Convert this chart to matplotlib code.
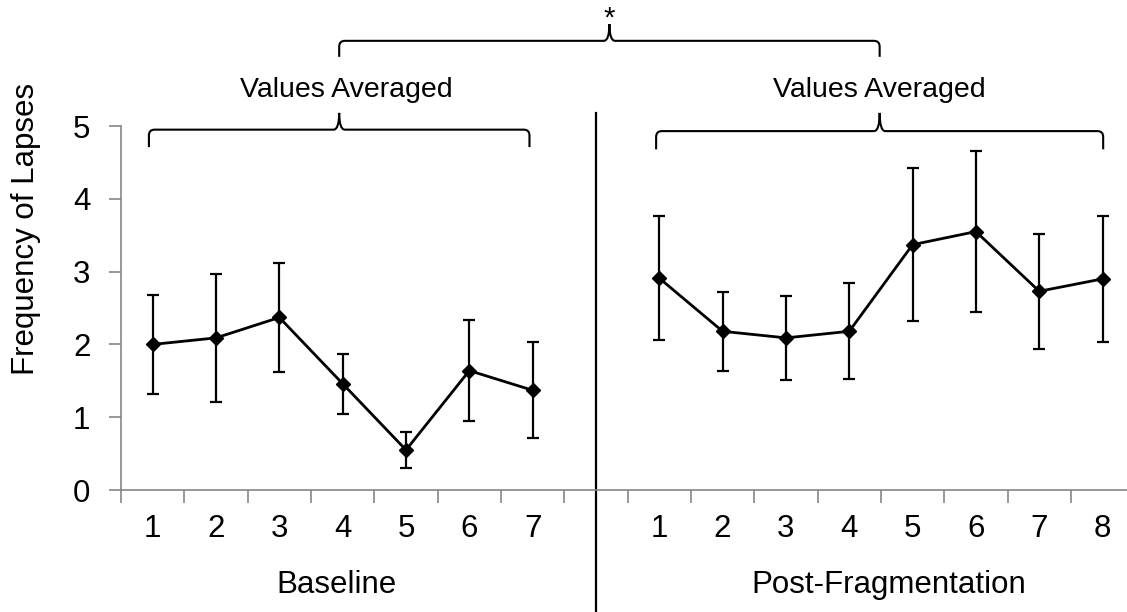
import matplotlib.pyplot as plt
from matplotlib.path import Path
from matplotlib.patches import PathPatch

plt.rcParams['font.family'] = ['Liberation Sans', 'DejaVu Sans']

# data
baseline_labels = ['1', '2', '3', '4', '5', '6', '7']
baseline_mean = [2.00, 2.09, 2.37, 1.46, 0.55, 1.64, 1.37]
baseline_err = [0.68, 0.88, 0.75, 0.41, 0.25, 0.69, 0.66]

post_labels = ['1', '2', '3', '4', '5', '6', '7', '8']
post_mean = [2.91, 2.18, 2.09, 2.18, 3.37, 3.55, 2.73, 2.90]
post_err = [0.85, 0.54, 0.58, 0.66, 1.05, 1.10, 0.79, 0.87]

# x positions: 7 baseline slots, one empty slot, 8 post slots
x_base = list(range(1, len(baseline_mean) + 1))
gap = len(baseline_mean) + 1
x_post = list(range(gap + 1, gap + 1 + len(post_mean)))
n_slots = gap + len(post_mean)

fig = plt.figure(figsize=(11.27, 6.12), dpi=100)
ax = fig.add_axes([0.1074, 0.1993, 0.899, 0.5948])

# each group is connected only within itself
for xs, ys, es in [(x_base, baseline_mean, baseline_err), (x_post, post_mean, post_err)]:
    ax.errorbar(xs, ys, yerr=es, color='black', lw=2.0, marker='D', ms=7,
                elinewidth=1.6, capsize=4.5, capthick=1.6, clip_on=False, zorder=3)

ax.set_xlim(0.5, n_slots + 0.5)
ax.set_ylim(0, 5)
ax.set_yticks([0, 1, 2, 3, 4, 5])
ax.set_xticks([i + 0.5 for i in range(0, n_slots + 1)])
ax.set_xticklabels([])
ax.tick_params(axis='both', direction='out', length=9, width=1.2, color='#868686',
               labelsize=22.5)
ax.tick_params(axis='y', pad=13)

for s in ['top', 'right']:
    ax.spines[s].set_visible(False)
for s in ['left', 'bottom']:
    ax.spines[s].set_color('#868686')
    ax.spines[s].set_linewidth(1.2)

# category numbers and group labels
for xs, labs in [(x_base, baseline_labels), (x_post, post_labels)]:
    for x, lab in zip(xs, labs):
        ax.text(x, -0.53, lab, ha='center', va='center', fontsize=22.5, clip_on=False)
ax.text(3.9, -1.31, 'Baseline', ha='center', va='center', fontsize=22.5, clip_on=False)
ax.text(12.63, -1.31, 'Post-Fragmentation', ha='center', va='center', fontsize=22.5, clip_on=False)

fig.text(26 / 1127, 1 - 229 / 612, 'Frequency of Lapses', rotation=90,
         ha='center', va='center', fontsize=22.5)

# divider between groups
ax.plot([gap, gap], [5.18, -1.68], color='black', lw=1.6, clip_on=False)


def brace(x0, x1, y, drop, tip, rx=0.09, ry=0.08):
    xc = (x0 + x1) / 2
    verts = [(x0, y - drop), (x0, y - ry), (x0, y), (x0 + rx, y),
             (xc - rx, y), (xc, y), (xc, y + tip),
             (xc, y), (xc + rx, y),
             (x1 - rx, y), (x1, y), (x1, y - ry), (x1, y - drop)]
    codes = [Path.MOVETO, Path.LINETO, Path.CURVE3, Path.CURVE3,
             Path.LINETO, Path.CURVE3, Path.CURVE3,
             Path.CURVE3, Path.CURVE3,
             Path.LINETO, Path.CURVE3, Path.CURVE3, Path.LINETO]
    ax.add_patch(PathPatch(Path(verts, codes), fill=False, lw=1.5, color='black',
                           clip_on=False))
    return xc


c_left = brace(x_base[0] - 0.06, x_base[-1] - 0.05, 4.95, 0.24, 0.23)
c_right = brace(x_post[0] - 0.05, x_post[-1] + 0.01, 4.93, 0.25, 0.25)
c_top = brace(c_left, c_right, 6.17, 0.22, 0.23)

ax.text(c_left + 0.12, 5.49, 'Values Averaged', ha='center', va='center', fontsize=20.5, clip_on=False)
ax.text(c_right, 5.49, 'Values Averaged', ha='center', va='center', fontsize=20.5, clip_on=False)
ax.text(c_top, 6.47, '*', ha='center', va='center', fontsize=21, clip_on=False)

fig.savefig('out.png', dpi=100)
